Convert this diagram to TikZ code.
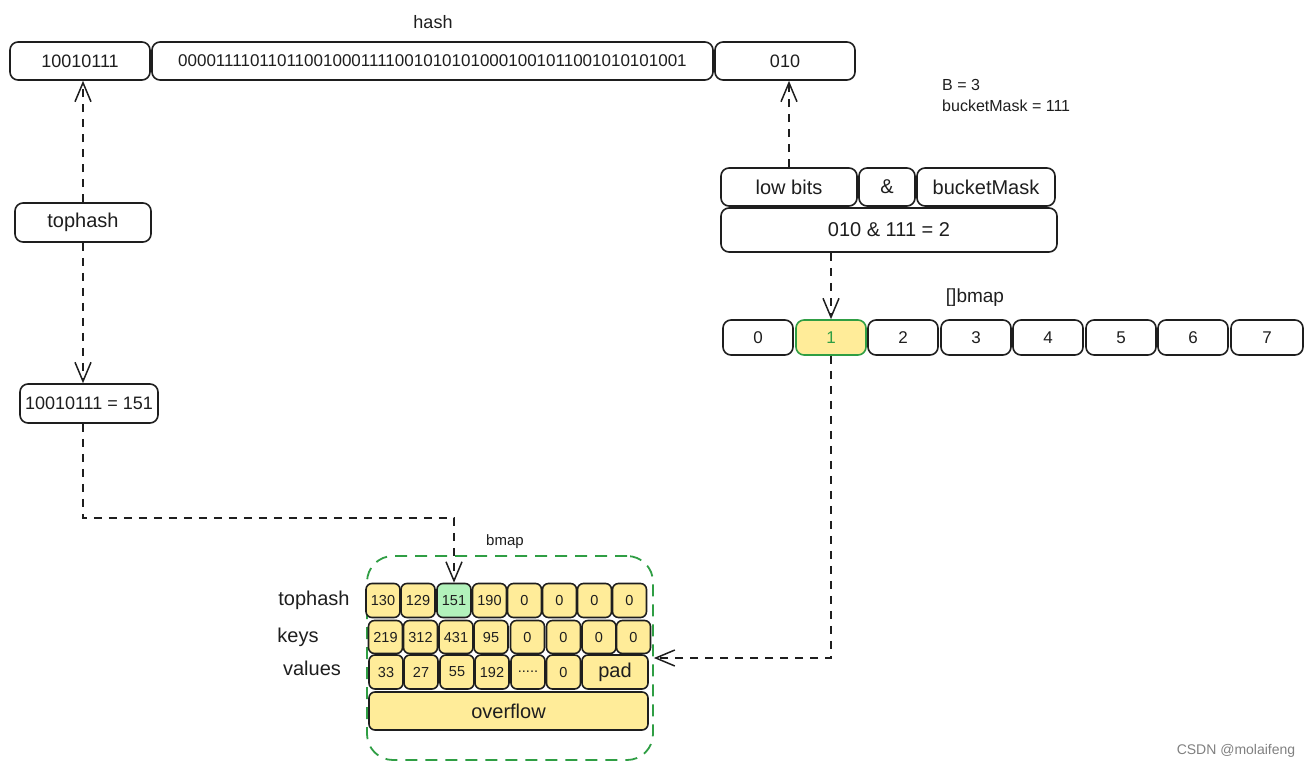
\documentclass[tikz,border=0pt]{standalone}
\usepackage{fontspec}
\setmainfont{Liberation Sans}
\usetikzlibrary{arrows.meta}
\definecolor{ink}{HTML}{1E1E1E}
\definecolor{cyel}{HTML}{FFEC99}
\definecolor{cgrn}{HTML}{B2F2BB}
\definecolor{sgrn}{HTML}{2F9E44}
\newcommand{\fw}{\fontsize{20}{24}\selectfont}
\newcommand{\fl}{\fontsize{17}{20}\selectfont}
\newcommand{\fs}{\fontsize{16}{19}\selectfont}
\newcommand{\fc}{\fontsize{14.5}{17}\selectfont}
\tikzset{
  box/.style={draw=ink, line width=1.6pt, rounded corners=8pt, text=ink, inner sep=0pt, fill=white},
  cell/.style={box, fill=cyel, rounded corners=6pt, minimum height=34pt, font=\fc},
  bcell/.style={box, minimum height=35pt, minimum width=70pt, font=\fl},
  lbl/.style={text=ink, inner sep=0pt},
  link/.style={draw=ink, line width=1.5pt, dash pattern=on 8pt off 7pt, -{Straight Barb[length=19pt,width=16pt,line width=1.5pt]}},
}
\begin{document}
\begin{tikzpicture}[x=1pt,y=-1pt]
\useasboundingbox (0,0) rectangle (1312,769);
% top hash bar
\node[lbl, font=\fontsize{18}{21}\selectfont] (hashlbl) at (433,22) {hash};
\node[box, minimum width=140pt, minimum height=38pt, font=\fontsize{18}{21}\selectfont] (b1) at (80,61) {10010111};
\node[box, minimum width=561pt, minimum height=38pt, font=\fl] (b2) at (432.5,61) {0000111101101100100011110010101010001001011001010101001};
\node[box, minimum width=140pt, minimum height=38pt, font=\fontsize{18}{21}\selectfont] (b3) at (785,61) {010};
\node[lbl, font=\fs, anchor=west] (bval) at (942,85) {B = 3};
\node[lbl, font=\fs, anchor=west] (mval) at (942,106) {bucketMask = 111};
% left chain
\node[box, minimum width=136pt, minimum height=39pt, font=\fw] (toph) at (83,222.5) {tophash};
\node[box, minimum width=138pt, minimum height=39pt, font=\fontsize{18}{21}\selectfont] (res) at (89,403.5) {10010111 = 151};
% right calc
\node[box, minimum width=136pt, minimum height=38pt, font=\fw] (low) at (789,187) {low bits};
\node[box, minimum width=56pt, minimum height=38pt, font=\fw] (amp) at (887,187) {\&};
\node[box, minimum width=138pt, minimum height=38pt, font=\fw] (bm) at (986,187) {bucketMask};
\node[box, minimum width=336pt, minimum height=44pt, font=\fw] (calc) at (889,230) {010 \& 111 = 2};
% []bmap
\node[lbl, font=\fontsize{19}{22}\selectfont] (arrlbl) at (975,298) {[]bmap};
\node[bcell] (c0) at (758,337.5) {0};
\node[bcell, fill=cyel, draw=sgrn, text=sgrn] (c1) at (831,337.5) {1};
\node[bcell] (c2) at (903,337.5) {2};
\node[bcell] (c3) at (976,337.5) {3};
\node[bcell] (c4) at (1048,337.5) {4};
\node[bcell] (c5) at (1121,337.5) {5};
\node[bcell] (c6) at (1193,337.5) {6};
\node[bcell, minimum width=72pt] (c7) at (1267,337.5) {7};
% bucket
\node[draw=sgrn, line width=1.8pt, dash pattern=on 12pt off 8pt, rounded corners=26pt, minimum width=286pt, minimum height=204pt, inner sep=0pt] (bucket) at (510,658) {};
\node[lbl, font=\fontsize{15}{18}\selectfont] (bklbl) at (505,542) {bmap};
\node[lbl, font=\fw] (rl1) at (314,600) {tophash};
\node[lbl, font=\fw] (rl2) at (298,637) {keys};
\node[lbl, font=\fw] (rl3) at (312,668) {values};
% tophash row
\node[cell, minimum width=34pt] (t1) at (383,600.5) {130};
\node[cell, minimum width=34pt] (t2) at (418,600.5) {129};
\node[cell, minimum width=34pt, fill=cgrn] (t3) at (454,600.5) {151};
\node[cell, minimum width=34pt] (t4) at (489.5,600.5) {190};
\node[cell, minimum width=34pt] (t5) at (524.5,600.5) {0};
\node[cell, minimum width=34pt] (t6) at (559.5,600.5) {0};
\node[cell, minimum width=34pt] (t7) at (594.5,600.5) {0};
\node[cell, minimum width=34pt] (t8) at (629.5,600.5) {0};
% keys row
\node[cell, minimum width=34pt, minimum height=33pt] (k1) at (385.5,637) {219};
\node[cell, minimum width=34pt, minimum height=33pt] (k2) at (420.5,637) {312};
\node[cell, minimum width=34pt, minimum height=33pt] (k3) at (456,637) {431};
\node[cell, minimum width=34pt, minimum height=33pt] (k4) at (491,637) {95};
\node[cell, minimum width=34pt, minimum height=33pt] (k5) at (527.5,637) {0};
\node[cell, minimum width=34pt, minimum height=33pt] (k6) at (563.5,637) {0};
\node[cell, minimum width=34pt, minimum height=33pt] (k7) at (599,637) {0};
\node[cell, minimum width=34pt, minimum height=33pt] (k8) at (633.5,637) {0};
% values row
\node[cell, minimum width=34pt] (v1) at (386,672) {33};
\node[cell, minimum width=34pt] (v2) at (421,672) {27};
\node[cell, minimum width=34pt] (v3) at (457,672) {55};
\node[cell, minimum width=34pt] (v4) at (492,672) {192};
\node[cell, minimum width=34pt] (v5) at (528,672) {.....};
\node[cell, minimum width=34pt] (v6) at (563.5,672) {0};
\node[cell, minimum width=66pt, font=\fw] (pad) at (615,672) {pad};
\node[cell, minimum width=279pt, minimum height=38pt, font=\fw] (ovf) at (508.5,711) {overflow};
% connectors
\coordinate (bend) at (0,518);
\draw[link] (toph.north) -- (toph.north |- b1.south);
\draw[link] (toph.south) -- (toph.south |- res.north);
\draw[link] (toph.south |- res.south) -- (toph.south |- bend) -- (t3.north |- bend) -- (t3.north);
\draw[link] (low.north) -- (low.north |- b3.south);
\draw[link] (c1.north |- calc.south) -- (c1.north);
\draw[link] (c1.south) |- (bucket.east);
% watermark
\node[lbl, font=\fontsize{14}{17}\selectfont, text=gray] (wm) at (1236,751) {CSDN @molaifeng};
\end{tikzpicture}
\end{document}
